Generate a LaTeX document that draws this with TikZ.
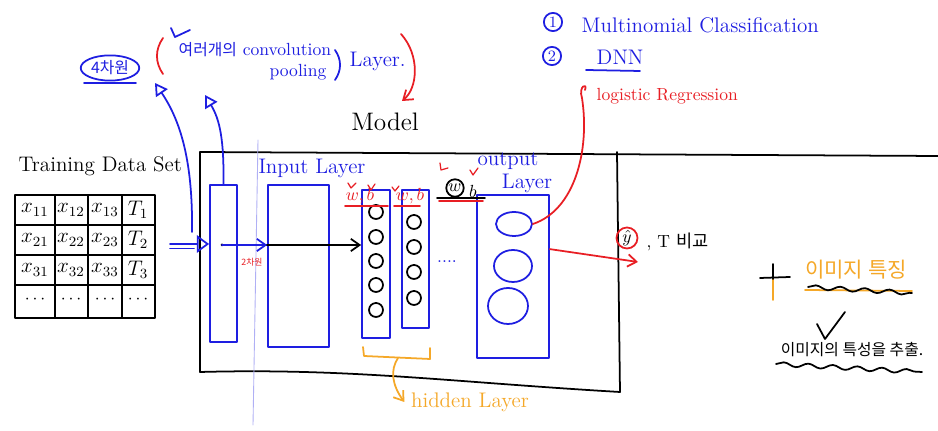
\documentclass[tikz,border=0pt]{standalone}
\usepackage{fontspec}
\newfontfamily\kr{Noto Sans CJK KR}
\usetikzlibrary{arrows.meta,shapes.geometric,decorations.pathmorphing}
\definecolor{pen}{RGB}{30,30,225}
\definecolor{ink}{RGB}{232,30,36}
\definecolor{amber}{RGB}{245,168,40}

\begin{document}
\begin{tikzpicture}[x=.02cm,y=-.02cm,>={Straight Barb[length=5pt,width=7pt]},line width=1pt,line cap=round,line join=round,
  layer/.style={draw=pen,inner sep=0pt},
  neuron/.style={circle,draw,minimum size=.28cm,inner sep=0pt},
  unit/.style={ellipse,draw=pen,inner sep=0pt},
  cell/.style={font=\large,inner sep=0pt},
  num/.style={circle,draw=pen,text=pen,inner sep=1pt,font=\small},
  wave/.style={decorate,decoration={snake,amplitude=1.2pt,segment length=14pt}},
  uparrow/.style={pen,-{Triangle[open,length=7pt,width=8pt]}}]
\fill[white] (0,0) rectangle (938,431);
\useasboundingbox (0,0) rectangle (938,431);
% notes on top
\node[num] (n1) at (553,22) {1};\node[anchor=west,text=pen,font=\large] (mc) at (575,25) {Multinomial Classification};
\node[num] (n2) at (552,56) {2};\node[anchor=west,text=pen,font=\large] (dnn) at (590,57) {DNN};
\draw[pen] (586,70)--(640,71);
\node[anchor=west,text=ink] (lr) at (590,96) {logistic Regression};
\node[ellipse,draw=pen,text=pen,font=\kr\small,inner sep=1pt] (dim4) at (110,68) {4차원};
\draw[pen] (84,83)--(136,83);
\draw[pen] (171,28)--(175,37)--(190,30);
\draw[ink] (163,38) to[bend right=35] (163,74);
\node[anchor=west,text=pen] (conv) at (172,50) {{\kr\small 여러개의} convolution};
\node[text=pen] (pool) at (298,72) {pooling};
\draw[pen] (335,50) to[bend left=35] (335,80);
\node[anchor=west,text=pen,font=\large] (lay) at (343,61) {Layer.};
\draw[ink,->] (401,34) .. controls (420,55) and (418,88) .. (402,101);
\node[font=\Large] (model) at (385,122) {Model};
% data set
\node[anchor=west,font=\large] (tds) at (12,166) {Training Data Set};
\draw (15,195) rectangle (155,318);
\foreach \x in {55,88,122} \draw (\x,195)--(\x,318);
\foreach \y in {225,255,285} \draw (15,\y)--(155,\y);
\foreach \r/\y in {1/210,2/240,3/270}{
  \foreach \c/\x in {1/35,2/71,3/105} \node[cell] (c\r\c) at (\x,\y) {$x_{\r\c}$};
  \node[cell] (t\r) at (138,\y) {$T_\r$};}
\foreach \c/\x in {1/35,2/71,3/105,4/138} \node (e\c) at (\x,300) {$\cdots$};
% model box
\draw (200,152) -- (938,156);
\draw (200,152) -- (200,372) .. controls (350,368) and (450,382) .. (620,392);
\draw (617,152) -- (620,392);
\draw[pen!35,line width=.5pt] (258,140) -- (253,425);
\node[layer,minimum width=.54cm,minimum height=3.14cm] (cv) at (223.5,263.5) {};
\node[layer,minimum width=1.22cm,minimum height=3.24cm] (inp) at (298.5,266) {};
\node[layer,minimum width=.56cm,minimum height=2.96cm] (h1) at (376,264) {};
\node[layer,minimum width=.54cm,minimum height=2.76cm] (h2) at (415.5,259) {};
\node[layer,minimum width=1.44cm,minimum height=3.26cm] (out) at (513,276.5) {};
\foreach \i/\y in {1/212,2/237,3/261,4/285,5/310} \node[neuron] (a\i) at (376,\y) {};
\foreach \i/\y in {1/222,2/247,3/272,4/298} \node[neuron] (b\i) at (414,\y) {};
\node[unit,minimum width=.72cm,minimum height=.48cm] (o1) at (514,224) {};
\node[unit,minimum width=.76cm,minimum height=.64cm] (o2) at (513,266) {};
\node[unit,minimum width=.8cm,minimum height=.72cm] (o3) at (508,306) {};
\node[text=pen,font=\large] (il) at (312,168) {Input Layer};
\node[text=pen,font=\large] (ol1) at (508,161) {output};\node[text=pen,font=\large] (ol2) at (527,183) {Layer};
\node[text=ink] (wb1) at (360,196) {$w,b$};\node[text=ink] (wb2) at (410,196) {$w,b$};
\draw[ink] (345,206)--(388,206);\draw[ink] (394,206)--(420,206);
\draw[ink,line width=.7pt] (348,183)--(351,188)--(356,183);\draw[ink,line width=.7pt] (368,185)--(371,190)--(375,184);
\draw[ink,line width=.7pt] (392,187)--(395,191)--(399,186);
\node[circle,draw,inner sep=.5pt] (w) at (455,188) {$w$};\node (b) at (473,191) {$b$};
\draw (437,198)--(485,198);\draw[ink] (439,201)--(483,201);
\draw[ink,line width=.7pt] (440,163)--(441,170)--(448,168);\draw[ink,line width=.7pt] (470,170)--(473,175)--(478,168);
\node[text=pen] (etc) at (447,262) {....};
% flow
\coordinate (feed) at (170,244);\coordinate (dot) at (222,245);
\fill (dot) circle (1.5);
\draw[pen,-{Triangle[open,length=7pt,width=10pt]}] (feed) -- (cv.west|-feed);
\draw[pen] ([yshift=-2.5pt]feed) -- ++(24,0);
\draw[->] (dot) -- (h1.west|-dot);
\draw[pen,->] (dot) -- (inp.west|-dot);
\node[text=ink,font=\kr\tiny] (d2) at (252,262) {2차원};
\coordinate (tip1) at (155,83);\coordinate (up1) at (192,232);
\draw[uparrow] (up1) .. controls (193,160) and (180,120) .. (tip1);
\draw[uparrow] (cv.north) .. controls (224,140) and (220,120) .. (205,95);
\draw[ink] (o1.east) .. controls (575,210) and (590,150) .. (582,98) .. controls (578,86) and (588,82) .. (585,90);
\node[circle,draw=ink,inner sep=0pt,minimum size=.42cm] (yhat) at (627,238) {$\hat y$};
\node[anchor=west] (cmp) at (640,242) {, T {\kr 비교}};
\coordinate (yend) at (638,262);
\draw[ink,->] (out.east|-o2.north) -- (yend);
% hidden bracket
\draw[amber] (363,347) -- (364,356) -- (430,359) -- (430,348);
\node[text=amber,font=\large] (hl) at (470,402) {hidden Layer};
\draw[amber,->] (398,358) .. controls (390,370) and (392,385) .. (hl.west);
% image features
\draw (760,278)--(790,277);\draw (773,264)--(773,280);\draw[amber] (773,280)--(773,300);
\node[text=amber,font=\kr\large] (feat) at (856,270) {이미지 특징};
\draw[amber] (805,290) -- (912,291);
\draw[wave] (808,287) -- (912,293);
\draw (817,324)--(825,339)--(845,312);
\node[font=\kr\small] (ext) at (852,350) {이미지의 특성을 추출.};
\draw[wave] (776,364) -- (922,372);
\end{tikzpicture}
\end{document}
